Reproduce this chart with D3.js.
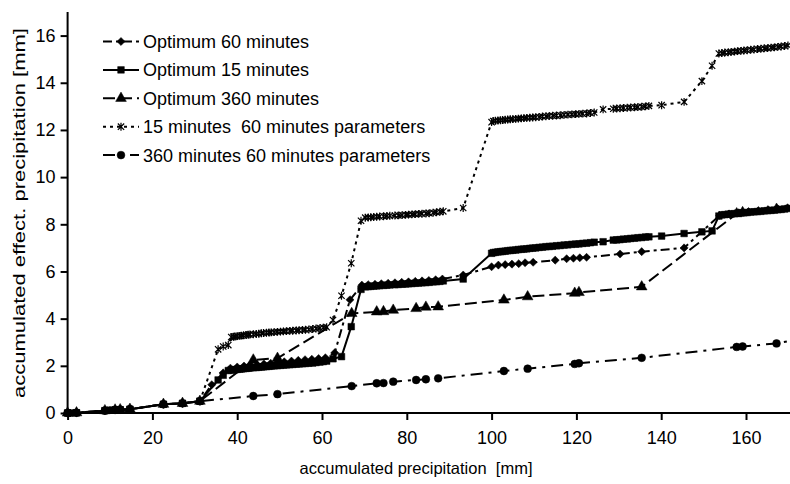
<!DOCTYPE html>
<html>
<head>
<meta charset="utf-8">
<script src="https://cdn.jsdelivr.net/npm/d3@7"></script>
<style>
  html, body { margin: 0; padding: 0; background: #fff; }
  svg { display: block; }
  text { font-family: "Liberation Sans", Arial, sans-serif; fill: #000; white-space: pre; }
</style>
</head>
<body>
<svg id="chart" width="790" height="484"></svg>
<script>
// ---------------- DATA ----------------
const xTicks = [0, 20, 40, 60, 80, 100, 120, 140, 160];
const yTicks = [0, 2, 4, 6, 8, 10, 12, 14, 16];
const xTitle = "accumulated precipitation  [mm]";
const yTitle = "accumulated effect. precipitation [mm]";
const seriesNames = [
  "Optimum 60 minutes",
  "Optimum 15 minutes",
  "Optimum 360 minutes",
  "15 minutes  60 minutes parameters",
  "360 minutes 60 minutes parameters"
];

// 60-minute time step (diamonds)
const x60 = [0, 2.1, 8.8, 11.2, 12.4, 14.7, 22.6, 27.1, 31.2, 34.0, 36.7, 38.4, 40.0, 41.6, 43.2, 44.7, 46.3, 47.9, 49.5, 51.1, 52.8, 54.4, 56.0, 57.6, 59.2, 60.8, 63.0, 66.6, 69.4, 70.9, 72.5, 74.0, 75.6, 77.2, 78.8, 80.4, 82.0, 83.6, 85.2, 86.8, 88.4, 93.3, 100.0, 101.6, 103.2, 104.8, 106.4, 107.9, 109.8, 115.0, 117.7, 119.3, 120.8, 122.4, 130.3, 135.4, 145.4, 153.8, 156.0, 158.3, 160.6, 162.9, 165.2, 167.5, 169.8];
const opt60 = [0, 0.01, 0.10, 0.13, 0.14, 0.16, 0.37, 0.41, 0.50, 1.20, 1.70, 1.90, 1.95, 1.99, 2.02, 2.05, 2.08, 2.11, 2.14, 2.17, 2.20, 2.23, 2.26, 2.28, 2.31, 2.34, 2.55, 4.80, 5.42, 5.44, 5.46, 5.48, 5.50, 5.52, 5.54, 5.56, 5.58, 5.60, 5.62, 5.65, 5.68, 5.85, 6.20, 6.27, 6.29, 6.31, 6.33, 6.37, 6.39, 6.48, 6.54, 6.56, 6.58, 6.60, 6.74, 6.84, 7.00, 8.38, 8.44, 8.49, 8.54, 8.58, 8.62, 8.66, 8.70];

// 15-minute time step (squares, asterisks)
const x15 = [0, 0.6, 2.1, 8.8, 10.0, 11.2, 12.4, 14.7, 22.6, 27.1, 31.2, 35.5, 36.7, 37.9,
  38.6, 39.1, 39.5, 40.0, 40.6, 41.0, 41.5, 42.1, 42.6, 43.0, 43.8, 44.5, 45.1, 45.7, 46.2, 46.9, 47.5, 48.0, 48.7, 49.5, 50.2, 50.9, 51.6, 52.4, 53.1, 53.9, 54.6, 55.4, 56.1, 56.9, 57.8, 58.6, 59.5, 60.3, 61.1,
  62.6, 64.6, 66.9, 69.2,
  70.2, 70.9, 71.5, 72.2, 72.9, 73.6, 74.5, 75.3, 76.0, 77.2, 78.0, 78.9, 79.7, 80.4, 81.2, 82.0, 82.8, 83.6, 84.5, 85.3, 86.2, 87.0, 87.8, 88.6,
  93.3, 100.0,
  100.4, 100.9, 101.5, 102.1, 102.6, 103.2, 103.8, 104.4, 105.0, 105.7, 106.3, 107.0, 107.6, 108.3, 109.0, 109.7, 110.4, 111.2, 112.0, 112.8, 113.6, 114.4, 115.3, 116.2, 117.1, 118.0, 118.9, 119.8, 120.6, 121.5, 122.4, 123.3, 124.2,
  126.3, 128.7, 129.5, 130.3, 131.1, 132.0, 132.8, 133.7, 134.5, 135.4, 136.3, 137.1,
  140.1, 145.4, 149.6, 152.0, 153.6,
  154.3, 155.0, 155.8, 156.5, 157.3, 158.0, 158.8, 159.5, 160.3, 161.1, 161.9, 162.7, 163.5, 164.3, 165.1, 165.9, 166.7, 167.5, 168.3, 169.1, 169.9];
const opt15 = [0, 0, 0.01, 0.10, 0.12, 0.13, 0.14, 0.16, 0.37, 0.41, 0.50, 1.40, 1.60, 1.80,
  1.82, 1.83, 1.84, 1.85, 1.86, 1.87, 1.88, 1.89, 1.90, 1.91, 1.92, 1.93, 1.94, 1.95, 1.96, 1.97, 1.98, 1.99, 2.00, 2.01, 2.02, 2.03, 2.04, 2.05, 2.06, 2.07, 2.08, 2.09, 2.10, 2.11, 2.12, 2.14, 2.16, 2.18, 2.20,
  2.30, 2.39, 3.66, 5.24,
  5.35, 5.36, 5.37, 5.38, 5.39, 5.40, 5.41, 5.42, 5.43, 5.44, 5.45, 5.46, 5.47, 5.48, 5.49, 5.50, 5.51, 5.52, 5.53, 5.54, 5.56, 5.57, 5.58, 5.60,
  5.68, 6.77,
  6.80, 6.81, 6.83, 6.84, 6.85, 6.86, 6.88, 6.89, 6.90, 6.91, 6.93, 6.94, 6.95, 6.96, 6.98, 6.99, 7.00, 7.02, 7.03, 7.05, 7.06, 7.07, 7.09, 7.10, 7.12, 7.13, 7.15, 7.16, 7.17, 7.19, 7.20, 7.22, 7.24,
  7.26, 7.33, 7.34, 7.35, 7.37, 7.38, 7.40, 7.41, 7.43, 7.44, 7.46, 7.47,
  7.50, 7.61, 7.68, 7.72, 8.35,
  8.40, 8.41, 8.43, 8.44, 8.45, 8.47, 8.48, 8.49, 8.50, 8.52, 8.53, 8.54, 8.55, 8.57, 8.58, 8.59, 8.60, 8.62, 8.63, 8.65, 8.67];
const p15with60 = [0, 0, 0.01, 0.10, 0.12, 0.13, 0.14, 0.16, 0.37, 0.41, 0.50, 2.70, 2.82, 2.88,
  3.22, 3.23, 3.24, 3.26, 3.27, 3.28, 3.29, 3.31, 3.32, 3.33, 3.34, 3.35, 3.36, 3.38, 3.39, 3.40, 3.41, 3.42, 3.43, 3.44, 3.45, 3.46, 3.47, 3.48, 3.49, 3.50, 3.51, 3.52, 3.53, 3.54, 3.56, 3.58, 3.60, 3.62, 3.64,
  3.94, 4.97, 6.35, 8.15,
  8.28, 8.29, 8.30, 8.31, 8.32, 8.33, 8.34, 8.35, 8.36, 8.37, 8.38, 8.39, 8.40, 8.41, 8.42, 8.43, 8.44, 8.45, 8.46, 8.47, 8.49, 8.51, 8.53, 8.55,
  8.69, 12.33,
  12.38, 12.39, 12.40, 12.41, 12.42, 12.43, 12.44, 12.45, 12.46, 12.47, 12.48, 12.49, 12.50, 12.51, 12.52, 12.53, 12.54, 12.55, 12.57, 12.58, 12.59, 12.60, 12.61, 12.62, 12.64, 12.65, 12.66, 12.67, 12.68, 12.69, 12.70, 12.72, 12.74,
  12.87, 12.90, 12.91, 12.92, 12.93, 12.94, 12.95, 12.96, 12.97, 12.98, 13.00, 13.02,
  13.05, 13.19, 14.07, 14.72, 15.24,
  15.26, 15.28, 15.29, 15.31, 15.32, 15.34, 15.35, 15.37, 15.38, 15.40, 15.41, 15.43, 15.44, 15.46, 15.47, 15.49, 15.50, 15.52, 15.54, 15.56, 15.58];

// 360-minute time step (triangles, circles)
const x360 = [0, 2.1, 8.8, 11.2, 12.4, 14.7, 22.6, 27.1, 31.2, 43.8, 49.5, 67.0, 72.9, 74.5, 76.8, 82.2, 84.5, 87.4, 102.9, 108.5, 119.6, 120.6, 135.4, 157.8, 159.2, 167.2, 171.5];
const opt360 = [0, 0.01, 0.10, 0.13, 0.14, 0.16, 0.37, 0.41, 0.50, 2.25, 2.32, 4.22, 4.29, 4.30, 4.36, 4.43, 4.49, 4.50, 4.79, 4.93, 5.08, 5.11, 5.35, 8.45, 8.50, 8.64, 8.72];
const p360with60 = [0, 0.01, 0.10, 0.13, 0.14, 0.16, 0.37, 0.41, 0.50, 0.72, 0.80, 1.14, 1.26, 1.27, 1.33, 1.40, 1.43, 1.47, 1.78, 1.88, 2.08, 2.11, 2.34, 2.80, 2.82, 2.95, 3.09];

// ---------------- CHART ----------------
const W = 790, H = 484;
const svg = d3.select("#chart");
const x = d3.scaleLinear().domain([0, 170]).range([67.6, 788.4]);
const y = d3.scaleLinear().domain([0, 17]).range([413, 12]);

svg.append("defs").append("clipPath").attr("id", "plotclip")
  .append("rect").attr("x", 60).attr("y", 0).attr("width", 730).attr("height", 425);

const asterisk = {
  draw(ctx, size) {
    const r = Math.sqrt(size) / 2;
    ctx.moveTo(-r, -r); ctx.lineTo(r, r);
    ctx.moveTo(-r, r); ctx.lineTo(r, -r);
    ctx.moveTo(0, -r * 1.25); ctx.lineTo(0, r * 1.25);
  }
};
const diamond = {
  draw(ctx, size) {
    const r = Math.sqrt(size) / 1.6;
    ctx.moveTo(0, -r); ctx.lineTo(r, 0); ctx.lineTo(0, r); ctx.lineTo(-r, 0); ctx.closePath();
  }
};

const series = [
  { name: seriesNames[0], xs: x60, ys: opt60, dash: "9,4,3,4", sym: diamond, size: 42, fill: true },
  { name: seriesNames[1], xs: x15, ys: opt15, dash: null, sym: d3.symbolSquare, size: 44, fill: true },
  { name: seriesNames[2], xs: x360, ys: opt360, dash: "12,5", sym: d3.symbolTriangle, size: 50, fill: true },
  { name: seriesNames[3], xs: x15, ys: p15with60, dash: "3,4", sym: asterisk, size: 40, fill: false },
  { name: seriesNames[4], xs: x360, ys: p360with60, dash: "12,6,3,6", sym: d3.symbolCircle, size: 48, fill: true }
];

// axes
const yAxis = d3.axisLeft(y).tickValues(yTicks).tickSize(7).tickSizeOuter(0).tickPadding(5);
const gy = svg.append("g").attr("transform", `translate(${x(0)},0)`).call(yAxis);
gy.select(".domain").attr("d", `M0,${y(0)}V${y(17)}`);
const xAxis = d3.axisBottom(x).tickValues(xTicks).tickSize(7).tickSizeOuter(0).tickPadding(11);
const gx = svg.append("g").attr("transform", `translate(0,${y(0)})`).call(xAxis);
gx.select(".domain").attr("d", `M${x(0) - 1},0H${W}`);
[gx, gy].forEach(g => {
  g.selectAll(".domain").attr("stroke", "#000").attr("stroke-width", 2);
  g.selectAll(".tick line").attr("stroke", "#000").attr("stroke-width", 2);
  g.selectAll(".tick text").attr("font-size", 18).attr("font-family", "Liberation Sans, Arial, sans-serif").attr("fill", "#000");
});

// series
const line = d3.line().x(d => x(d[0])).y(d => y(d[1]));
const plot = svg.append("g").attr("clip-path", "url(#plotclip)");
series.forEach(s => {
  const pts = s.xs.map((v, i) => [v, s.ys[i]]);
  plot.append("path").datum(pts)
    .attr("d", line).attr("fill", "none").attr("stroke", "#000").attr("stroke-width", 2)
    .attr("stroke-dasharray", s.dash);
  plot.append("g").selectAll("path").data(pts).join("path")
    .attr("transform", d => `translate(${x(d[0])},${y(d[1])})`)
    .attr("d", d3.symbol(s.sym, s.size))
    .attr("fill", s.fill ? "#000" : "none")
    .attr("stroke", "#000").attr("stroke-width", s.fill ? 0.5 : 1.2);
});

// legend
const lg = svg.append("g");
series.forEach((s, i) => {
  const cy = 41.5 + i * 28.4;
  lg.append("line").attr("x1", 103).attr("x2", 139).attr("y1", cy).attr("y2", cy)
    .attr("stroke", "#000").attr("stroke-width", 2).attr("stroke-dasharray", s.dash);
  lg.append("path").attr("transform", `translate(121,${cy})`)
    .attr("d", d3.symbol(s.sym, s.size))
    .attr("fill", s.fill ? "#000" : "none").attr("stroke", "#000").attr("stroke-width", s.fill ? 0.5 : 1.2);
  lg.append("text").attr("x", 143).attr("y", cy).attr("dy", "0.36em")
    .attr("font-size", 18).text(s.name);
});

// titles
svg.append("text").attr("x", 416).attr("y", 468).attr("dy", "0.36em")
  .attr("text-anchor", "middle").attr("font-size", 16.5).text(xTitle);
svg.append("text").attr("transform", `translate(19,${213}) rotate(-90)`).attr("dy", "0.36em")
  .attr("text-anchor", "middle").attr("font-size", 17)
  .attr("textLength", 370).attr("lengthAdjust", "spacingAndGlyphs").text(yTitle);
</script>
</body>
</html>
